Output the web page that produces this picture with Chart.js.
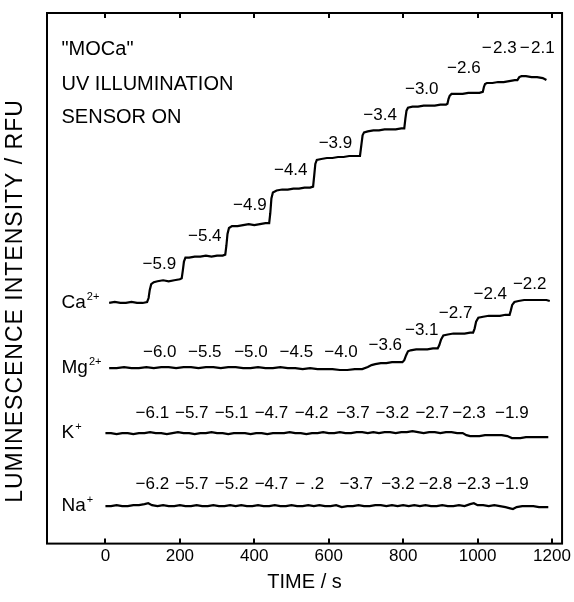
<!DOCTYPE html>
<html>
<head>
<meta charset="utf-8">
<script src="https://cdn.jsdelivr.net/npm/chart.js@4.4.0/dist/chart.umd.min.js"></script>
<style>
  html, body { margin: 0; padding: 0; background: #fff; }
  #wrap { width: 574px; height: 602px; }
</style>
</head>
<body>
<div id="wrap"><canvas id="chart"></canvas></div>
<script>
// time (s), intensity (RFU, arbitrary)
const timeTicks = [0, 200, 400, 600, 800, 1000, 1200];

const caTrace = [
  [10,244],[25,245],[40,244],[55,244],[70,245],[85,244],[100,244],[112,245],
  [116,249],[119,257],[123,263],[130,265],[140,266],[155,267],[170,266],[185,267],[200,268],
  [205,269],[208,277],[211,286],[215,290],[225,290],[240,291],[255,291],[270,292],[285,291],[300,292],[315,292],[322,293],
  [325,302],[328,314],[332,320],[340,322],[355,322],[370,323],[385,324],[400,323],[415,324],[430,325],[440,325],
  [443,335],[446,350],[450,356],[460,358],[475,359],[490,359],[505,360],[520,360],[535,361],[550,361],[558,362],
  [561,373],[564,385],[568,389],[580,390],[595,391],[610,391],[625,392],[640,392],[655,393],[670,393],[684,393],
  [688,405],[691,414],[695,417],[705,418],[720,419],[735,419],[750,420],[765,420],[780,420],[795,421],[803,421],
  [806,431],[809,439],[813,442],[825,443],[840,443],[855,444],[870,444],[885,444],[900,445],[915,445],[919,446],
  [922,451],[925,454],[930,456],[945,456],[960,456],[975,457],[990,457],[1005,457],[1014,458],
  [1017,463],[1020,466],[1025,467],[1040,467],[1055,468],[1070,468],[1085,469],[1100,470],[1107,470],
  [1112,473],[1118,474],[1130,474],[1145,473],[1160,473],[1175,472],[1185,470]
];

const mgTrace = [
  [10,178],[30,178],[50,179],[70,178],[90,178],[110,179],[130,178],[150,179],[170,179],[190,178],
  [210,179],[230,179],[250,178],[270,179],[290,179],[310,178],[330,179],[350,179],[370,178],[390,178],
  [410,179],[430,178],[450,178],[470,179],[490,178],[510,178],[530,177],[550,178],[570,177],[590,177],
  [610,177],[630,176],[650,176],[670,177],[690,177],[705,179],[715,181],[725,182],[740,183],[755,183],
  [770,184],[785,184],[798,184],
  [803,186],[808,191],[813,195],[820,196],[835,197],[850,197],[865,197],[880,198],[893,198],
  [897,201],[902,207],[908,211],[920,212],[935,213],[950,213],[965,213],[980,214],[988,214],
  [992,218],[996,225],[1002,229],[1015,230],[1030,231],[1045,231],[1060,231],[1075,232],[1086,232],
  [1089,236],[1093,242],[1099,245],[1110,246],[1125,247],[1140,247],[1155,247],[1170,247],[1185,247],[1194,246]
];

const kTrace = [
  [0,112],[15,112],[30,111],[45,112],[60,112],[75,111],[90,112],[105,112],[120,113],[135,112],
  [150,112],[165,111],[180,112],[195,113],[210,112],[225,112],[240,111],[255,112],[270,112],[285,113],
  [300,112],[315,112],[330,111],[345,112],[360,112],[375,112],[390,111],[405,112],[420,112],[435,111],
  [450,112],[465,112],[480,112],[495,113],[510,112],[525,112],[540,111],[555,112],[570,112],[585,113],
  [600,112],[615,112],[630,113],[645,112],[660,112],[675,113],[690,113],[705,112],[720,113],[735,112],
  [750,113],[765,113],[780,112],[795,113],[810,113],[825,114],[840,113],[855,112],[870,113],[885,113],
  [900,112],[915,113],[930,113],[945,112],[960,112],[970,110],[980,109],[990,109],[1005,109],[1020,110],
  [1035,110],[1050,110],[1065,110],[1080,109],[1092,107],[1100,107],[1115,107],[1130,108],[1145,108],
  [1160,108],[1175,108],[1190,108]
];

const naTrace = [
  [0,38],[15,38],[30,39],[45,38],[60,38],[75,39],[90,39],[105,40],[115,41],[125,39],
  [140,38],[155,39],[170,38],[185,38],[200,39],[215,38],[230,38],[245,39],[260,38],[275,38],
  [290,39],[305,38],[320,38],[335,39],[350,38],[365,39],[380,38],[395,38],[410,39],[425,38],
  [440,38],[455,39],[470,38],[485,38],[500,39],[515,38],[530,38],[545,39],[560,38],[575,39],
  [590,38],[605,38],[620,39],[635,37],[650,38],[665,38],[680,39],[695,38],[710,38],[725,39],
  [740,39],[755,38],[770,39],[785,38],[800,39],[815,38],[830,39],[845,38],[860,39],[875,38],
  [890,38],[905,39],[920,38],[935,38],[950,39],[965,38],[980,40],[990,41],[1000,39],[1015,39],
  [1030,38],[1045,39],[1060,38],[1075,37],[1085,36],[1095,35],[1105,37],[1120,38],[1135,38],
  [1150,38],[1165,37],[1180,37],[1190,37]
];

const ionNames = ['Ca', 'Mg', 'K', 'Na'];
const ionCharges = ['2+', '2+', '+', '+'];

// log concentration added at each step, with [time, intensity] anchor
const caConc = ['−5.9', '−5.4', '−4.9', '−4.4', '−3.9', '−3.4', '−3.0', '−2.6', '−\u200A2.3', '−\u200A2.1'];
const caConcAt = [[145,283],[267,312],[388,343],[498,378],[618,406],[738,434],[850,461],[963,482],[1058,502],[1160,502]];
const mgConc = ['−6.0', '−5.5', '−5.0', '−4.5', '−4.0', '−3.6', '−3.1', '−2.7', '−2.4', '−2.2'];
const mgConcAt = [[146,194],[267,194],[391,194],[513,194],[633,194],[752,201],[850,216],[941,234],[1034,253],[1140,263]];
const kConc = ['−6.1', '−5.7', '−5.1', '−4.7', '−4.2', '−3.7', '−3.2', '−2.7', '−2.3', '−1.9'];
const kConcAt = [[126,132],[232,132],[339,132],[446,132],[554,132],[665,132],[771,132],[878,132],[977,132],[1092,132]];
const naConc = ['−6.2', '−5.7', '−5.2', '−4.7', '− .2', '−3.7', '−3.2', '−2.8', '−2.3', '−1.9'];
const naConcAt = [[126,60],[232,60],[339,60],[446,60],[549,60],[674,60],[786,60],[887,60],[990,60],[1092,60]];

const notes = ['"MOCa"', 'UV ILLUMINATION', 'SENSOR ON'];
const notesAt = [[-118,501],[-118,466],[-118,432]];

const traces = [caTrace, mgTrace, kTrace, naTrace];
const FONT = '"Liberation Sans", Arial, sans-serif';

const framePlugin = {
  id: 'frame',
  afterDraw(chart) {
    const ctx = chart.ctx;
    const a = chart.chartArea;
    const xs = chart.scales.x;
    const ys = chart.scales.y;
    ctx.save();
    ctx.strokeStyle = '#000';
    ctx.lineWidth = 2;
    ctx.strokeRect(a.left, a.top, a.right - a.left, a.bottom - a.top);
    // inward ticks top and bottom
    for (const t of xs.ticks) {
      const px = Math.round(xs.getPixelForValue(t.value));
      ctx.beginPath();
      ctx.moveTo(px, a.bottom);
      ctx.lineTo(px, a.bottom - 5);
      ctx.moveTo(px, a.top);
      ctx.lineTo(px, a.top + 5);
      ctx.stroke();
    }

    ctx.fillStyle = '#000';
    ctx.textBaseline = 'middle';

    // ion labels
    ctx.textAlign = 'left';
    traces.forEach((tr, i) => {
      const px = xs.getPixelForValue(notesAt[0][0]);
      const py = ys.getPixelForValue(tr[0][1]);
      ctx.font = '19px ' + FONT;
      ctx.fillText(ionNames[i], px, py);
      const w = ctx.measureText(ionNames[i]).width;
      ctx.font = '11px ' + FONT;
      ctx.fillText(ionCharges[i], px + w + 1, py - 6);
    });

    // concentration labels
    ctx.textAlign = 'center';
    ctx.font = '17px ' + FONT;
    const groups = [[caConc, caConcAt], [mgConc, mgConcAt], [kConc, kConcAt], [naConc, naConcAt]];
    for (const [txt, at] of groups) {
      txt.forEach((s, i) => {
        ctx.fillText(s, xs.getPixelForValue(at[i][0]), ys.getPixelForValue(at[i][1]));
      });
    }

    // notes
    ctx.textAlign = 'left';
    ctx.font = '20px ' + FONT;
    notes.forEach((s, i) => {
      ctx.fillText(s, xs.getPixelForValue(notesAt[i][0]), ys.getPixelForValue(notesAt[i][1]));
    });

    // y axis title
    ctx.save();
    ctx.translate(16, 301);
    ctx.rotate(-Math.PI / 2);
    ctx.textAlign = 'center';
    ctx.font = '23px ' + FONT;
    ctx.letterSpacing = '1px';
    ctx.fillText('LUMINESCENCE INTENSITY / RFU', 0, 0);
    ctx.restore();

    ctx.restore();
  }
};

const datasets = traces.map((tr, i) => ({
  label: ionNames[i],
  data: tr.map(p => ({ x: p[0], y: p[1] })),
  showLine: true,
  borderColor: '#000',
  borderWidth: 2.2,
  pointRadius: 0,
  tension: 0
}));

new Chart(document.getElementById('chart'), {
  type: 'scatter',
  data: { datasets: datasets },
  options: {
    animation: false,
    responsive: true,
    maintainAspectRatio: false,
    devicePixelRatio: 1,
    layout: { padding: { left: 47, right: 4, top: 13, bottom: 8 } },
    scales: {
      x: {
        type: 'linear',
        min: -157,
        max: 1227,
        afterBuildTicks: (scale) => {
          scale.ticks = timeTicks.map(v => ({ value: v }));
        },
        grid: { display: false, drawTicks: false },
        border: { display: false },
        ticks: {
          color: '#000',
          padding: 3,
          font: { family: FONT, size: 17 },
          callback: (v) => String(v)
        },
        title: {
          display: true,
          text: 'TIME / s',
          color: '#000',
          padding: { top: 0, bottom: 0 },
          font: { family: FONT, size: 20 }
        }
      },
      y: {
        display: false,
        min: 0,
        max: 538
      }
    },
    plugins: {
      legend: { display: false },
      tooltip: { enabled: false }
    }
  },
  plugins: [framePlugin]
});
</script>
</body>
</html>
